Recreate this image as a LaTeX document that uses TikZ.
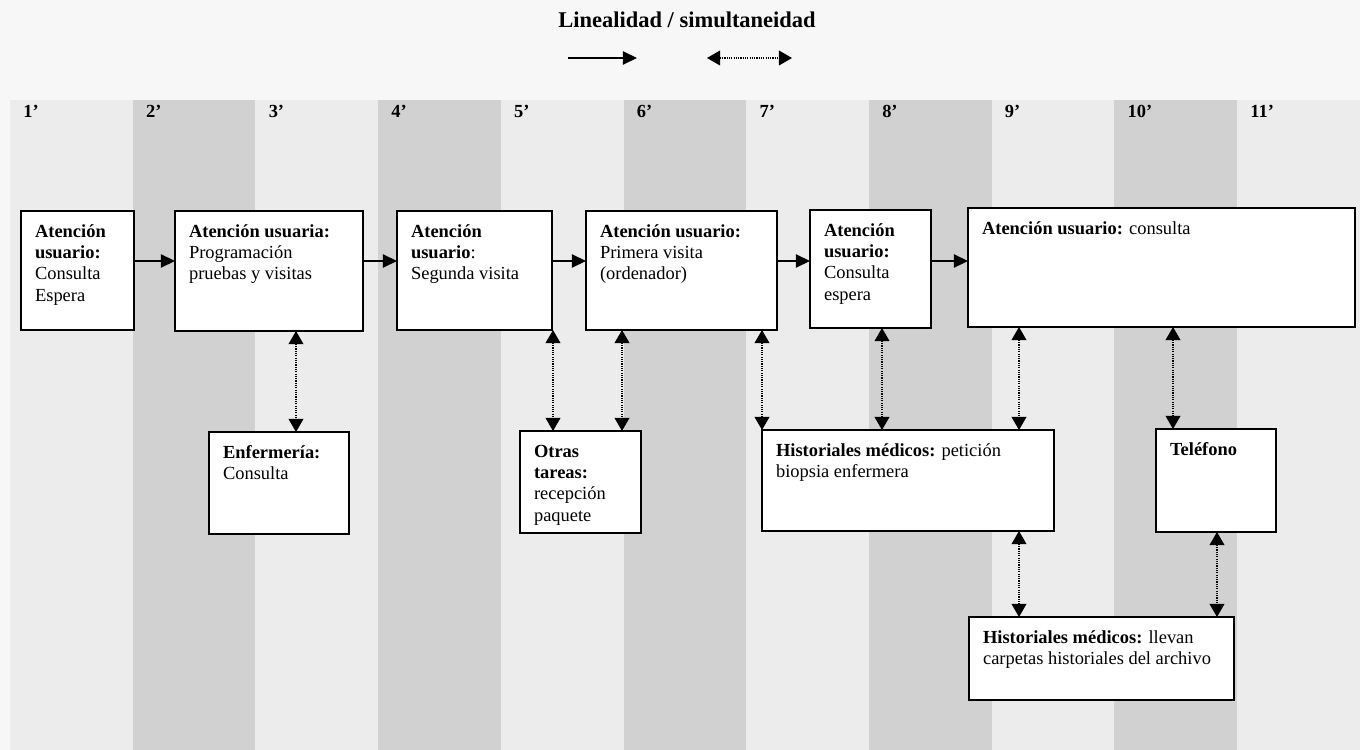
\documentclass[tikz,border=0pt]{standalone}
\usepackage{fontspec}
\setmainfont{Liberation Serif}
\usetikzlibrary{arrows.meta}

\definecolor{paper}{gray}{0.97}
\definecolor{stripelight}{gray}{0.925}
\definecolor{stripedark}{gray}{0.82}

% text block of a box: width and height in pixels of the drawing
\newcommand{\boxtext}[3]{\parbox[c][\dimexpr0.02cm*#2-13pt\relax][t]{\dimexpr0.02cm*#1-16pt\relax}{\strut#3}}

\begin{document}
\begin{tikzpicture}[x=0.02cm, y=-0.02cm,
    box/.style={draw, fill=white, line width=1.1pt, inner xsep=8pt, inner ysep=6.5pt,
        outer sep=0pt, anchor=north west, font=\fontsize{10.5}{12.1}\selectfont},
    colnum/.style={anchor=base west, inner sep=0pt, font=\bfseries\fontsize{10.5}{12}\selectfont},
    flow/.style={-{Triangle[length=8pt,width=7.5pt]}, line width=0.9pt},
    link/.style={{Triangle[length=7.5pt,width=8.5pt]}-{Triangle[length=7.5pt,width=8.5pt]},
        line width=0.6pt, dash pattern=on 0.6pt off 0.7pt}]
    % Paper
    \fill[paper] (0,0) rectangle (1360,750);
    % Minute columns
    \foreach \k in {1,...,11}
    {
        \pgfmathsetmacro{\xl}{10+(\k-1)*122.7}
        \ifodd\k \def\tone{stripelight}\else \def\tone{stripedark}\fi
        \fill[\tone] (\xl,100) rectangle ++(122.7,650);
        \node[colnum] (min\k) at (\xl+13,118) {\k’};
    }
    % Legend
    \node[anchor=base, inner sep=0pt, font=\bfseries\fontsize{12.8}{15}\selectfont] (title) at (687,28) {Linealidad / simultaneidad};
    \coordinate (seqA) at (568,58);
    \coordinate (seqB) at (637,58);
    \coordinate (simA) at (707,58);
    \coordinate (simB) at (792,58);
    \draw[flow] (seqA) -- (seqB);
    \draw[link] (simA) -- (simB);

    % Boxes, top row
    \node[box] (b1) at (21,211) {\boxtext{113}{119}{\textbf{Atención}\\ \textbf{usuario:}\\ Consulta\\ Espera}};
    \node[box] (b2) at (175,211) {\boxtext{188}{120}{\textbf{Atención usuaria:}\\ Programación\\ pruebas y visitas}};
    \node[box] (b3) at (397,211) {\boxtext{155}{119}{\textbf{Atención}\\ \textbf{usuario}:\\ Segunda visita}};
    \node[box] (b4) at (586,211) {\boxtext{191}{119}{\textbf{Atención usuario:}\\ Primera visita\\ (ordenador)}};
    \node[box] (b5) at (810,210) {\boxtext{121}{118}{\textbf{Atención}\\ \textbf{usuario:}\\ Consulta\\ espera}};
    \node[box] (b6) at (968,208) {\boxtext{387}{119}{\textbf{Atención usuario:} consulta}};
    % Boxes, middle row
    \node[box] (c1) at (209,432) {\boxtext{140}{102}{\textbf{Enfermería:}\\ Consulta}};
    \node[box] (c2) at (520,431) {\boxtext{121}{102}{\textbf{Otras}\\ \textbf{tareas:}\\ recepción\\ paquete}};
    \node[box] (c3) at (762,430) {\boxtext{292}{101}{\textbf{Historiales médicos:} petición\\ biopsia enfermera}};
    \node[box] (c4) at (1156,429) {\boxtext{120}{103}{\textbf{Teléfono}}};
    % Box, bottom row
    \node[box] (d1) at (969,617) {\boxtext{265}{83}{\textbf{Historiales médicos:} llevan\\ carpetas historiales del archivo}};

    % Linear flow
    \draw[flow] (b1.east |- 0,261) -- (b2.west |- 0,261);
    \draw[flow] (b2.east |- 0,261) -- (b3.west |- 0,261);
    \draw[flow] (b3.east |- 0,261) -- (b4.west |- 0,261);
    \draw[flow] (b4.east |- 0,261) -- (b5.west |- 0,261);
    \draw[flow] (b5.east |- 0,261) -- (b6.west |- 0,261);
    % Simultaneous tasks
    \draw[link] (b2.south -| 296,0) -- (c1.north -| 296,0);
    \draw[link] (b3.south -| 553,0) -- (c2.north -| 553,0);
    \draw[link] (b4.south -| 622,0) -- (c2.north -| 622,0);
    \draw[link] (b4.south -| 762,0) -- (c3.north -| 762,0);
    \draw[link] (b5.south -| 882,0) -- (c3.north -| 882,0);
    \draw[link] (b6.south -| 1019,0) -- (c3.north -| 1019,0);
    \draw[link] (b6.south -| 1173,0) -- (c4.north -| 1173,0);
    \draw[link] (c3.south -| 1019,0) -- (d1.north -| 1019,0);
    \draw[link] (c4.south -| 1217,0) -- (d1.north -| 1217,0);
\end{tikzpicture}
\end{document}
